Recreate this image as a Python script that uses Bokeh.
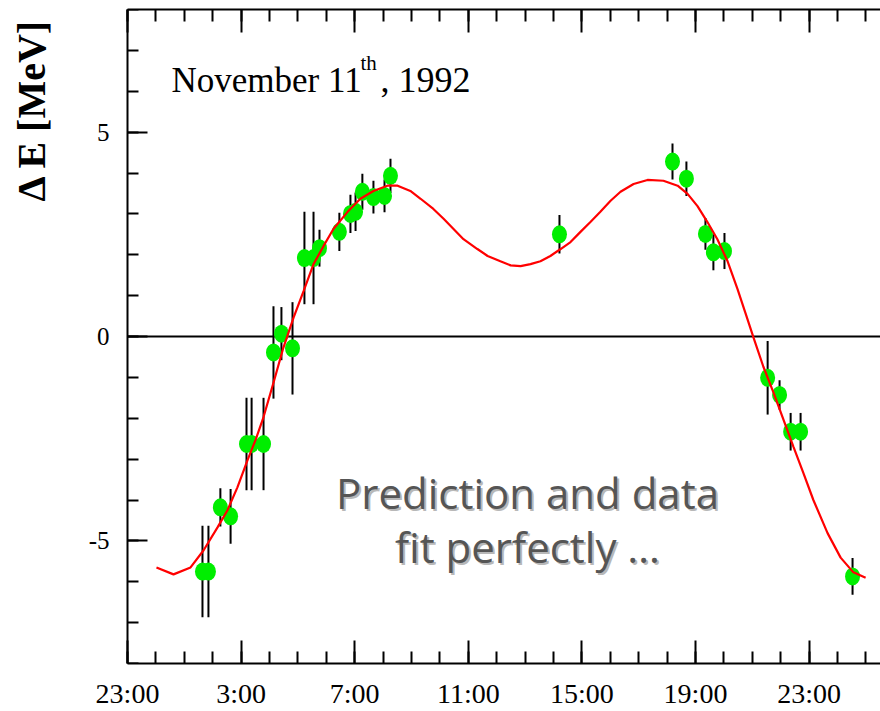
import math

from bokeh.plotting import figure
from bokeh.models import (ColumnDataSource, FixedTicker, LinearAxis, Label, Range1d)
from bokeh.embed import file_html
from bokeh.resources import INLINE

# Measured energy shift, hours after midnight of November 11th, 1992
hours = [1.64, 1.85, 2.27, 2.63, 3.19, 3.37, 3.79, 4.14, 4.42, 4.81,
         5.23, 5.55, 5.76, 6.46, 6.85, 7.03, 7.27, 7.66, 8.05, 8.26,
         14.21, 18.19, 18.68, 19.35, 19.63, 20.02, 21.54, 21.96, 22.35,
         22.70, 24.53]
delta_e = [-5.75, -5.75, -4.18, -4.40, -2.63, -2.63, -2.63, -0.39, 0.07, -0.29,
           1.92, 1.92, 2.16, 2.56, 3.00, 3.05, 3.54, 3.41, 3.44, 3.93,
           2.50, 4.28, 3.86, 2.51, 2.06, 2.09, -1.01, -1.43, -2.33,
           -2.33, -5.87]
delta_e_err = [1.12, 1.12, 0.47, 0.67, 1.13, 1.13, 1.13, 1.13, 0.65, 1.13,
               1.13, 1.13, 0.45, 0.47, 0.47, 0.47, 0.44, 0.40, 0.40, 0.42,
               0.47, 0.44, 0.42, 0.39, 0.44, 0.44, 0.90, 0.36, 0.46,
               0.46, 0.45]

# Predicted energy shift (tidal model)
pred_hours = [0.02, 0.62, 1.22, 1.68, 2.17, 2.52, 2.87, 3.23, 3.51, 3.79,
              4.14, 4.49, 4.85, 5.20, 5.55, 5.90, 6.25, 6.75, 7.20, 7.66,
              8.15, 8.51, 8.96, 9.32, 9.77, 10.13, 10.48, 10.83, 11.32, 11.68,
              12.13, 12.49, 12.84, 13.19, 13.54, 13.89, 14.25, 14.60, 14.95,
              15.30, 15.65, 16.01, 16.36, 16.82, 17.31, 17.87, 18.37, 18.72,
              19.07, 19.42, 19.77, 20.13, 20.48, 20.76, 21.04, 21.39, 21.75,
              22.10, 22.45, 22.80, 23.15, 23.65, 24.11, 24.56, 24.99]
pred_delta_e = [-5.65, -5.82, -5.65, -5.23, -4.67, -4.25, -3.69, -3.02, -2.53, -1.97,
                -1.13, -0.27, 0.47, 1.11, 1.77, 2.21, 2.63, 3.05, 3.37, 3.56,
                3.69, 3.69, 3.56, 3.37, 3.12, 2.88, 2.63, 2.38, 2.14, 1.97,
                1.84, 1.74, 1.72, 1.77, 1.84, 1.97, 2.14, 2.31, 2.56,
                2.80, 3.05, 3.32, 3.54, 3.73, 3.83, 3.81, 3.69, 3.49,
                3.19, 2.80, 2.38, 1.84, 1.16, 0.57, -0.02, -0.74, -1.38,
                -2.04, -2.70, -3.34, -4.00, -4.81, -5.41, -5.77, -5.90]

tick_hours = [-1, 3, 7, 11, 15, 19, 23]
tick_labels = ["23:00", "3:00", "7:00", "11:00", "15:00", "19:00", "23:00"]
y_ticks = [-5, 0, 5]
y_tick_labels = ["-5", "0", "5"]

# plotted time span (hours) and energy span (MeV)
T_START, T_END = -1, 25.514
Y_START, Y_END = -8, 8

# the canvas frame reaches the left edge of the page; the left axis is pinned
# at T_START, leaving room for the vertical title and tick labels beside it
PX_PER_HOUR = 28.4
LEFT_AXIS_PX = 127
X_VIEW_START = T_START - LEFT_AXIS_PX / PX_PER_HOUR

p = figure(width=880, height=711, output_backend="svg", toolbar_location=None,
           x_range=Range1d(X_VIEW_START, T_END), y_range=Range1d(Y_START, Y_END),
           x_axis_location=None, y_axis_location=None,
           min_border_left=0, min_border_right=0, min_border_top=9,
           min_border_bottom=48, outline_line_color=None,
           background_fill_color="white", border_fill_color="white")
p.grid.visible = False

x_ticker = FixedTicker(ticks=tick_hours, minor_ticks=list(range(-1, 27)))
y_ticker = FixedTicker(ticks=y_ticks, minor_ticks=list(range(-8, 9)))

common = dict(axis_line_width=2, major_tick_line_width=2, minor_tick_line_width=2,
              axis_line_color="black", major_tick_line_color="black",
              minor_tick_line_color="black", major_tick_out=0, minor_tick_out=0)

bottom = LinearAxis(ticker=x_ticker, bounds=(T_START, T_END),
                    major_label_overrides={h: t for h, t in zip(tick_hours, tick_labels)},
                    major_tick_in=23, minor_tick_in=12,
                    major_label_text_font="Liberation Sans Narrow",
                    major_label_text_font_size="28px",
                    major_label_text_color="black",
                    major_label_standoff=14, **common)
p.add_layout(bottom, "below")

top = LinearAxis(ticker=x_ticker, bounds=(T_START, T_END),
                 major_tick_in=23, minor_tick_in=12,
                 major_label_text_font_size="0px", major_label_standoff=0,
                 major_label_text_color=None, **common)
p.add_layout(top, "above")

left = LinearAxis(ticker=y_ticker, fixed_location=T_START, bounds=(Y_START, Y_END),
                  major_label_overrides={v: t for v, t in zip(y_ticks, y_tick_labels)},
                  major_tick_in=20, minor_tick_in=11,
                  major_label_text_font="Liberation Serif",
                  major_label_text_font_size="25px",
                  major_label_text_color="black",
                  major_label_standoff=18, **common)
p.add_layout(left, "left")

# zero line across the time span
p.line([T_START, T_END], [0, 0], line_color="black", line_width=2)

lo = [v - e for v, e in zip(delta_e, delta_e_err)]
hi = [v + e for v, e in zip(delta_e, delta_e_err)]
src = ColumnDataSource(dict(x=hours, y=delta_e, lo=lo, hi=hi))

p.segment(x0="x", y0="lo", x1="x", y1="hi", source=src,
          line_color="black", line_width=2)
p.ellipse(x="x", y="y", width=15, height=18, width_units="screen",
          height_units="screen", source=src, fill_color="#00ee00", line_color=None)
p.line(pred_hours, pred_delta_e, line_color="#ff0000", line_width=2.2)


# page pixel -> data helpers for annotation placement
def hx(px):
    return X_VIEW_START + px / PX_PER_HOUR


def vy(py):
    return Y_END - (py - 9.5) * (Y_END - Y_START) / 653.5


p.add_layout(Label(x=hx(31), y=vy(110), text="\u0394 E [MeV]", angle=math.pi / 2,
                   text_align="center", text_baseline="middle",
                   text_font="Liberation Serif", text_font_style="bold",
                   text_font_size="40px", text_color="black"))

date_font = dict(text_font="Liberation Serif", text_color="black",
                 text_baseline="alphabetic")
p.add_layout(Label(x=hx(171), y=vy(80), text="November 11", text_align="left",
                   text_font_size="35px", **date_font))
p.add_layout(Label(x=hx(360), y=vy(63), text="th", text_align="left",
                   text_font_size="21px", **date_font))
p.add_layout(Label(x=hx(380), y=vy(80), text=", 1992", text_align="left",
                   text_font_size="36px", **date_font))

note_lines = [("Prediction and data", 492), ("fit perfectly \u2026", 546)]
for line, base in note_lines:
    for color, dx, dy in (("#b8b8b8", 2, -2), ("#555555", 0, 0)):
        p.add_layout(Label(x=hx(527), y=vy(base), text=line, x_offset=dx, y_offset=dy,
                           text_align="center", text_baseline="alphabetic",
                           text_font="Open Sans", text_font_size="42px",
                           text_color=color))

open("out.html", "w").write(file_html(p, INLINE))
